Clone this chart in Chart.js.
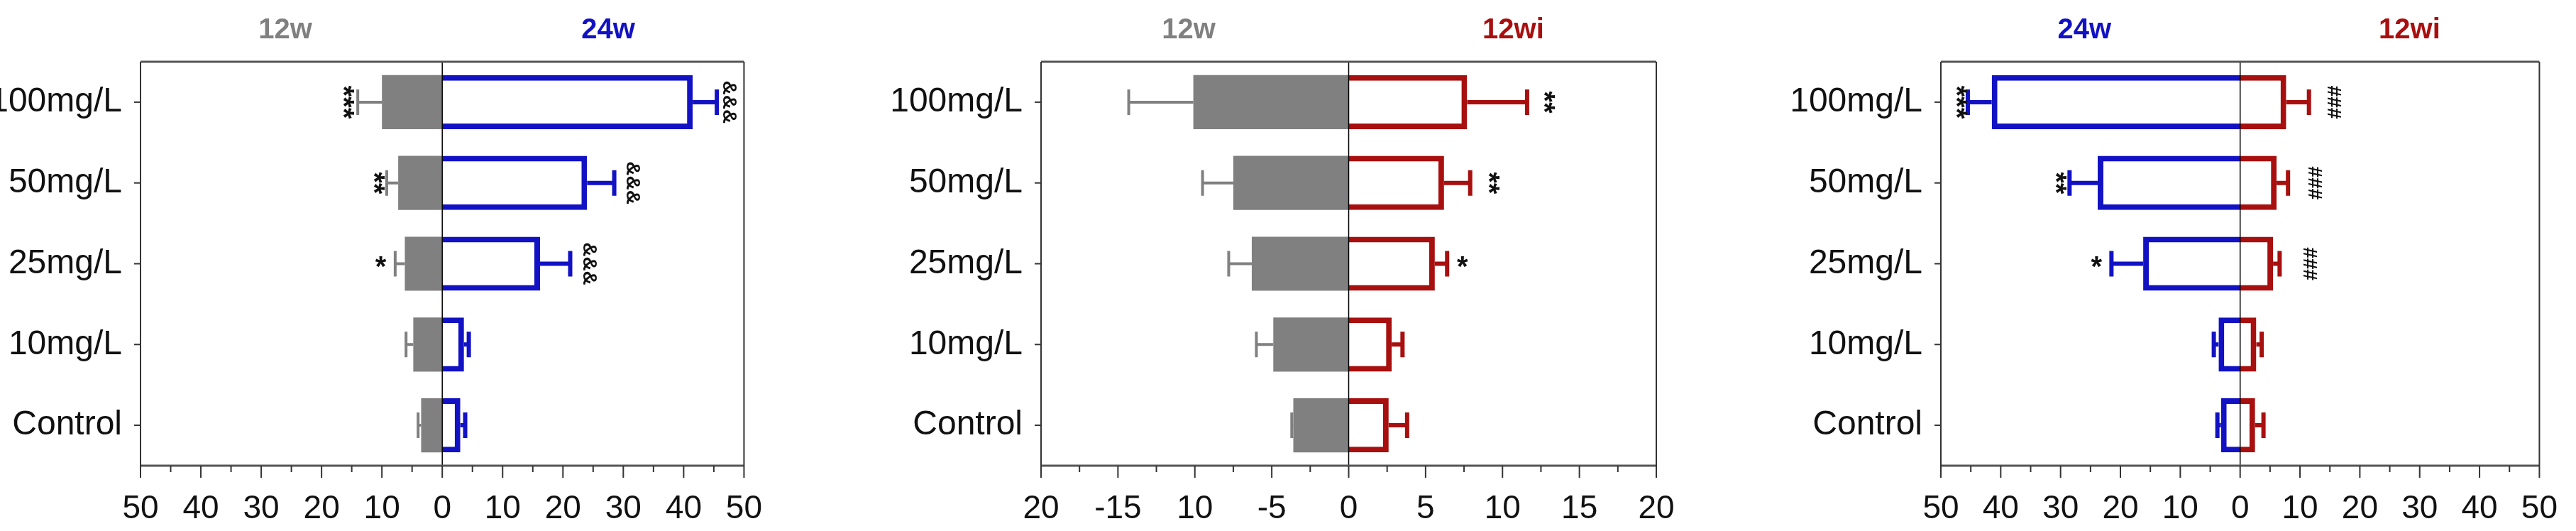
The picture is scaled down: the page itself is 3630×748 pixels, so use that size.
<!DOCTYPE html>
<html>
<head>
<meta charset="utf-8">
<script src="https://cdn.jsdelivr.net/npm/chart.js@4"></script>
<style>
  html, body { margin: 0; padding: 0; background: #fff; }
  #wrap { position: relative; width: 3630px; height: 748px; }
  .panel { position: absolute; top: 0; height: 748px; }
</style>
</head>
<body>
<div id="wrap">
  <div class="panel" style="left:0;width:1100px"><canvas id="c1"></canvas></div>
  <div class="panel" style="left:1210px;width:1210px"><canvas id="c2"></canvas></div>
  <div class="panel" style="left:2420px;width:1210px"><canvas id="c3"></canvas></div>
</div>
<script>
// === data ===
const GROUPS = ["100mg/L", "50mg/L", "25mg/L", "10mg/L", "Control"];

// panel 1: 12w (left) vs 24w (right)
const P1_LEFT = [-10, -7.3, -6.2, -4.8, -3.5];
const P1_LEFT_ERR = [-14, -9.2, -7.8, -6, -4];
const P1_RIGHT = [41.5, 24, 16.2, 3.6, 3];
const P1_RIGHT_ERR = [45.5, 28.5, 21.2, 4.4, 3.8];
const P1_TICKS = ["50", "40", "30", "20", "10", "0", "10", "20", "30", "40", "50"];
const P1_MARKS = [
  { v: -16.6, g: 0, t: "***" }, { v: 47.5, g: 0, t: "&&&" },
  { v: -11.5, g: 1, t: "**" }, { v: 31.5, g: 1, t: "&&&" },
  { v: -10.2, g: 2, t: "*", flat: true }, { v: 24.3, g: 2, t: "&&&" },
];

// panel 2: 12w (left) vs 12wi (right)
const P2_LEFT = [-10.1, -7.5, -6.3, -4.9, -3.6];
const P2_LEFT_ERR = [-14.3, -9.5, -7.8, -6, -3.7];
const P2_RIGHT = [7.7, 6.2, 5.6, 2.8, 2.6];
const P2_RIGHT_ERR = [11.6, 7.9, 6.4, 3.5, 3.8];
const P2_TICKS = ["20", "-15", "10", "-5", "0", "5", "10", "15", "20"];
const P2_MARKS = [
  { v: 12.6, g: 0, t: "**" }, { v: 9, g: 1, t: "**" }, { v: 7.4, g: 2, t: "*", flat: true },
];

// panel 3: 24w (left) vs 12wi (right)
const P3_LEFT = [-41.5, -23.8, -16.2, -3.6, -3.2];
const P3_LEFT_ERR = [-45.5, -28.5, -21.5, -4.4, -3.8];
const P3_RIGHT = [7.7, 6.1, 5.5, 2.7, 2.5];
const P3_RIGHT_ERR = [11.5, 8, 6.6, 3.6, 3.9];
const P3_TICKS = ["50", "40", "30", "20", "10", "0", "10", "20", "30", "40", "50"];
const P3_MARKS = [
  { v: -47.6, g: 0, t: "***" }, { v: 15.5, g: 0, t: "###" },
  { v: -31, g: 1, t: "**" }, { v: 12.3, g: 1, t: "###" },
  { v: -24, g: 2, t: "*", flat: true }, { v: 11.5, g: 2, t: "###" },
];

const GRAY = "#808080";
const BLUE = "#1212c4";
const RED = "#a80f0f";
const NARROW = "'Liberation Sans Narrow', 'Arial Narrow', 'Liberation Sans', Arial, sans-serif";
const SANS = "'Liberation Sans', Arial, sans-serif";

// per-canvas extras, kept out of Chart.js options
const PANEL_EXTRAS = {};

// error bars, annotation marks, frame, ticks and titles
const extrasPlugin = {
  id: "extras",
  afterDatasetsDraw(chart) {
    const o = PANEL_EXTRAS[chart.canvas.id];
    if (!o) return;
    const { ctx, chartArea: a, scales: { x, y } } = chart;
    ctx.save();
    ctx.strokeStyle = "#000";
    ctx.lineWidth = 1.5;
    ctx.beginPath();
    ctx.moveTo(x.getPixelForValue(0), a.top);
    ctx.lineTo(x.getPixelForValue(0), a.bottom);
    ctx.stroke();

    const cap = 36;
    o.errs.forEach(e => {
      e.vals.forEach((v, i) => {
        const yc = y.getPixelForValue(i);
        const x0 = x.getPixelForValue(v);
        const x1 = x.getPixelForValue(e.err[i]);
        ctx.strokeStyle = e.color;
        ctx.lineWidth = e.w;
        ctx.beginPath();
        ctx.moveTo(x0, yc);
        ctx.lineTo(x1, yc);
        ctx.moveTo(x1, yc - cap / 2);
        ctx.lineTo(x1, yc + cap / 2);
        ctx.stroke();
      });
    });

    ctx.fillStyle = "#111";
    ctx.textAlign = "center";
    ctx.textBaseline = "middle";
    o.marks.forEach(m => {
      const px = x.getPixelForValue(m.v);
      const py = y.getPixelForValue(m.g);
      ctx.save();
      ctx.translate(px, py + (m.flat ? 6 : 0));
      if (!m.flat) ctx.rotate(Math.PI / 2);
      ctx.font = m.t[0] === "*" ? "bold 40px " + SANS : "bold 28px " + SANS;
      ctx.fillText(m.t, 0, 0);
      ctx.restore();
    });

    ctx.strokeStyle = "#555";
    ctx.lineWidth = 3;
    ctx.beginPath();
    ctx.moveTo(a.left, a.top); ctx.lineTo(a.right, a.top);
    ctx.moveTo(a.left, a.bottom); ctx.lineTo(a.right, a.bottom);
    ctx.stroke();
    ctx.strokeStyle = "#333";
    ctx.lineWidth = 2;
    ctx.beginPath();
    ctx.moveTo(a.left, a.top); ctx.lineTo(a.left, a.bottom);
    ctx.moveTo(a.right, a.top); ctx.lineTo(a.right, a.bottom);
    ctx.stroke();

    const n = Math.round((x.max - x.min) / o.minorStep);
    for (let k = 0; k <= n; k++) {
      const v = x.min + k * o.minorStep;
      const px = x.getPixelForValue(v);
      ctx.beginPath();
      ctx.moveTo(px, a.bottom);
      ctx.lineTo(px, a.bottom + (k % 2 === 0 ? 17 : 9));
      ctx.stroke();
    }
    GROUPS.forEach((g, i) => {
      const py = y.getPixelForValue(i);
      ctx.beginPath();
      ctx.moveTo(a.left - 9, py);
      ctx.lineTo(a.left, py);
      ctx.stroke();
    });

    ctx.font = "bold 40px " + SANS;
    o.titles.forEach(t => {
      ctx.fillStyle = t.color;
      ctx.fillText(t.text, x.getPixelForValue(t.v), 43);
    });
    ctx.restore();
  },
};

function makePanel(id, cfg) {
  const span = cfg.max;
  PANEL_EXTRAS[id] = {
    errs: [
      { vals: cfg.left, err: cfg.leftErr, color: cfg.leftFill ? GRAY : cfg.leftColor, w: cfg.leftFill ? 4 : 6 },
      { vals: cfg.right, err: cfg.rightErr, color: cfg.rightColor, w: 6 },
    ],
    marks: cfg.marks,
    titles: cfg.titles,
    minorStep: cfg.majorStep / 2,
  };
  new Chart(document.getElementById(id), {
    type: "bar",
    data: {
      labels: GROUPS,
      datasets: [
        {
          data: cfg.left,
          backgroundColor: cfg.leftFill ? GRAY : "#fff",
          borderColor: cfg.leftFill ? GRAY : cfg.leftColor,
          borderWidth: cfg.leftFill ? 0 : 8,
          borderSkipped: "start",
        },
        {
          data: cfg.right,
          backgroundColor: "#fff",
          borderColor: cfg.rightColor,
          borderWidth: 8,
          borderSkipped: "start",
        },
      ],
    },
    options: {
      indexAxis: "y",
      responsive: true,
      maintainAspectRatio: false,
      animation: false,
      layout: { padding: { top: 87, right: cfg.padRight, left: 0, bottom: 0 } },
      datasets: { bar: { categoryPercentage: 1, barPercentage: 0.67 } },
      plugins: {
        legend: { display: false },
        tooltip: { enabled: false },
      },
      scales: {
        x: {
          min: -span,
          max: span,
          stacked: true,
          grid: { display: false },
          border: { display: false },
          afterBuildTicks: s => {
            s.ticks = cfg.tickLabels.map((_, i) => ({ value: -span + i * cfg.majorStep }));
          },
          afterFit: s => { s.height = 92; },
          ticks: {
            padding: 26,
            maxRotation: 0,
            autoSkip: false,
            color: "#111",
            font: { family: NARROW, size: 46 },
            callback: (v, i) => cfg.tickLabels[i],
          },
        },
        y: {
          stacked: true,
          grid: { display: false },
          border: { display: false },
          afterFit: s => { s.width = cfg.yWidth; },
          ticks: {
            padding: 18,
            color: "#111",
            font: { family: NARROW, size: 48 },
          },
        },
      },
    },
    plugins: [extrasPlugin],
  });
}

makePanel("c1", {
  left: P1_LEFT, leftErr: P1_LEFT_ERR, right: P1_RIGHT, rightErr: P1_RIGHT_ERR,
  leftFill: true, rightColor: BLUE, max: 50, majorStep: 10, tickLabels: P1_TICKS,
  marks: P1_MARKS, yWidth: 198, padRight: 41,
  titles: [{ text: "12w", v: -26, color: GRAY }, { text: "24w", v: 27.5, color: BLUE }],
});
makePanel("c2", {
  left: P2_LEFT, leftErr: P2_LEFT_ERR, right: P2_RIGHT, rightErr: P2_RIGHT_ERR,
  leftFill: true, rightColor: RED, max: 20, majorStep: 5, tickLabels: P2_TICKS,
  marks: P2_MARKS, yWidth: 257, padRight: 86,
  titles: [{ text: "12w", v: -10.4, color: GRAY }, { text: "12wi", v: 10.7, color: RED }],
});
makePanel("c3", {
  left: P3_LEFT, leftErr: P3_LEFT_ERR, right: P3_RIGHT, rightErr: P3_RIGHT_ERR,
  leftFill: false, leftColor: BLUE, rightColor: RED, max: 50, majorStep: 10, tickLabels: P3_TICKS,
  marks: P3_MARKS, yWidth: 315, padRight: 28,
  titles: [{ text: "24w", v: -26, color: BLUE }, { text: "12wi", v: 28.3, color: RED }],
});
</script>
</body>
</html>
